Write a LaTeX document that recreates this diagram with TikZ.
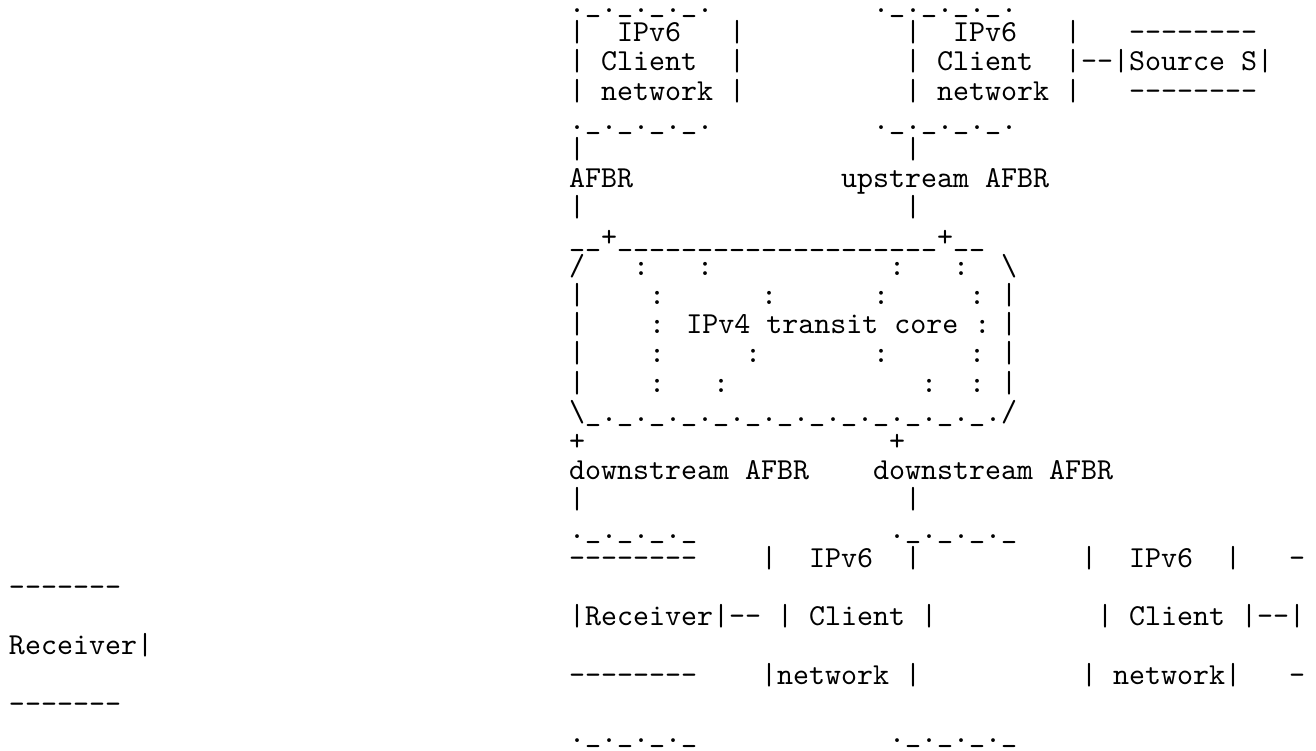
\documentclass[tikz,border=0pt]{standalone}
\font\cour="[lmmono10-regular.otf]" at 30.48pt
\def\U{\char95\relax}
\def\B{\char92\relax}
\def\Ux{\U\U\U\U\U}
\newcommand\ptxt[4]{\node[tx] (#1) at ({569+16*(#2)},{-12.5-29.2*((#3)-1)}) {#4};}
\begin{document}
\begin{tikzpicture}[x=1pt,y=1pt,
  tx/.style={anchor=base west, inner sep=0pt, outer sep=0pt, font=\cour, text=black}]
\useasboundingbox (0,0) rectangle (1316,-750);
% row 1
\ptxt{r1a}{0}{1}{.\U.\U.\U.\U.}
\ptxt{r1b}{19}{1}{.\U.\U.\U.\U.}
% row 2
\ptxt{r2a}{0}{2}{|}
\ptxt{r2b}{3}{2}{IPv6}
\ptxt{r2c}{10}{2}{|}
\ptxt{r2d}{21}{2}{|}
\ptxt{r2e}{24}{2}{IPv6}
\ptxt{r2f}{31}{2}{|}
\ptxt{r2g}{35}{2}{--------}
% row 3
\ptxt{r3a}{0}{3}{|}
\ptxt{r3b}{2}{3}{Client}
\ptxt{r3c}{10}{3}{|}
\ptxt{r3d}{21}{3}{|}
\ptxt{r3e}{23}{3}{Client}
\ptxt{r3f}{31}{3}{|--|Source S|}
% row 4
\ptxt{r4a}{0}{4}{|}
\ptxt{r4b}{2}{4}{network}
\ptxt{r4c}{10}{4}{|}
\ptxt{r4d}{21}{4}{|}
\ptxt{r4e}{23}{4}{network}
\ptxt{r4f}{31}{4}{|}
\ptxt{r4g}{35}{4}{--------}
% row 5
\ptxt{r5a}{0}{5}{.\U.\U.\U.\U.}
\ptxt{r5b}{19}{5}{.\U.\U.\U.\U.}
% row 6
\ptxt{r6a}{0}{6}{|}
\ptxt{r6b}{21}{6}{|}
% row 7
\ptxt{r7a}{0}{7}{AFBR}
\ptxt{r7b}{17}{7}{upstream AFBR}
% row 8
\ptxt{r8a}{0}{8}{|}
\ptxt{r8b}{21}{8}{|}
% row 9
\ptxt{r9a}{0}{9}{\U\U+\Ux\Ux\Ux\Ux+\U\U}
% row 10
\ptxt{r10a}{0}{10}{/}
\ptxt{r10b}{4}{10}{:}
\ptxt{r10c}{8}{10}{:}
\ptxt{r10d}{20}{10}{:}
\ptxt{r10e}{24}{10}{:}
\ptxt{r10f}{27}{10}{\B}
% row 11
\ptxt{r11a}{0}{11}{|}
\ptxt{r11b}{5}{11}{:}
\ptxt{r11c}{12}{11}{:}
\ptxt{r11d}{19}{11}{:}
\ptxt{r11e}{25}{11}{:}
\ptxt{r11f}{27}{11}{|}
% row 12
\ptxt{r12a}{0}{12}{|}
\ptxt{r12b}{5}{12}{: IPv4 transit core :}
\ptxt{r12c}{27}{12}{|}
% row 13
\ptxt{r13a}{0}{13}{|}
\ptxt{r13b}{5}{13}{:}
\ptxt{r13c}{11}{13}{:}
\ptxt{r13d}{19}{13}{:}
\ptxt{r13e}{25}{13}{:}
\ptxt{r13f}{27}{13}{|}
% row 14
\ptxt{r14a}{0}{14}{|}
\ptxt{r14b}{5}{14}{:}
\ptxt{r14c}{9}{14}{:}
\ptxt{r14d}{22}{14}{:}
\ptxt{r14e}{25}{14}{:}
\ptxt{r14f}{27}{14}{|}
% row 15
\ptxt{r15a}{0}{15}{\B\U.\U.\U.\U.\U.\U.\U.\U.\U.\U.\U.\U.\U./}
% row 16
\ptxt{r16a}{0}{16}{+}
\ptxt{r16b}{20}{16}{+}
% row 17
\ptxt{r17a}{0}{17}{downstream AFBR}
\ptxt{r17b}{19}{17}{downstream AFBR}
% row 18
\ptxt{r18a}{0}{18}{|}
\ptxt{r18b}{21}{18}{|}
% row 19
\ptxt{r19a}{0}{19}{.\U.\U.\U.\U}
\ptxt{r19b}{20}{19}{.\U.\U.\U.\U}
% row 20
\ptxt{r20a}{0}{20}{--------}
\ptxt{r20b}{12}{20}{|}
\ptxt{r20c}{15}{20}{IPv6}
\ptxt{r20d}{21}{20}{|}
\ptxt{r20e}{32}{20}{|}
\ptxt{r20f}{35}{20}{IPv6}
\ptxt{r20g}{41}{20}{|}
\ptxt{r20h}{45}{20}{-}
% row 21
\ptxt{r21a}{-35}{21}{-------}
% row 22
\ptxt{r22a}{0}{22}{|Receiver|--}
\ptxt{r22b}{13}{22}{| Client |}
\ptxt{r22c}{33}{22}{| Client |--|}
% row 23
\ptxt{r23a}{-35}{23}{Receiver|}
% row 24
\ptxt{r24a}{0}{24}{--------}
\ptxt{r24b}{12}{24}{|network |}
\ptxt{r24c}{32}{24}{| network|}
\ptxt{r24d}{45}{24}{-}
% row 25
\ptxt{r25a}{-35}{25}{-------}
% row 26
\ptxt{r26a}{0}{26}{.\U.\U.\U.\U}
\ptxt{r26b}{20}{26}{.\U.\U.\U.\U}
\end{tikzpicture}
\end{document}
